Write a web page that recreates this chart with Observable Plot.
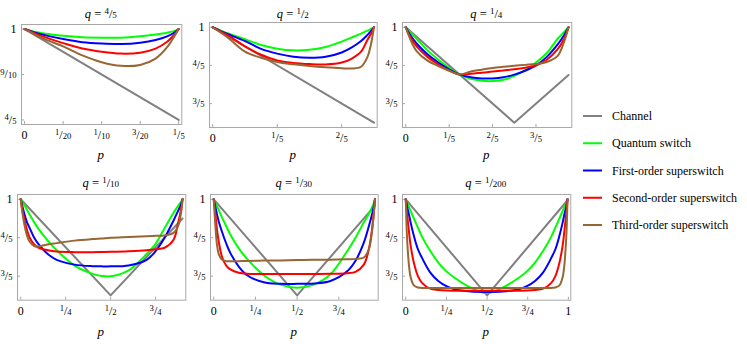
<!DOCTYPE html>
<html>
<head>
<meta charset="utf-8">
<script src="https://cdn.jsdelivr.net/npm/d3@7"></script>
<script src="https://cdn.jsdelivr.net/npm/@observablehq/plot@0.6"></script>
<style>
  body { margin: 0; background: #fff; }
  #root { position: relative; width: 747px; height: 344px; overflow: hidden; font-family: "Liberation Serif", "Times New Roman", "DejaVu Serif", serif; }
  .panel { position: absolute; }
  #overlay { position: absolute; left: 0; top: 0; pointer-events: none; }
  svg text { font-family: "Liberation Serif", "Times New Roman", "DejaVu Serif", serif !important; }
</style>
</head>
<body>
<div id="root"></div>
<script>
// ---------- data ----------
const seriesNames = ["Channel", "Quantum switch", "First-order superswitch", "Second-order superswitch", "Third-order superswitch"];
const seriesColors = ["#808080", "#00ff00", "#0000ff", "#ff0000", "#996633"];

const qNumerators = ["4", "1", "1", "1", "1", "1"];
const qDenominators = ["5", "2", "4", "10", "30", "200"];

// q = 4/5
const p1 = [0, 0.01, 0.02, 0.03, 0.05, 0.075, 0.1, 0.125, 0.15, 0.17, 0.185, 0.195, 0.2];
const switch1 = [1, 0.995, 0.992, 0.989, 0.985, 0.982, 0.981, 0.981, 0.984, 0.988, 0.992, 0.996, 1];
const first1 = [1, 0.994, 0.989, 0.985, 0.978, 0.971, 0.968, 0.967, 0.970, 0.976, 0.984, 0.993, 1];
const second1 = [1, 0.993, 0.986, 0.980, 0.969, 0.957, 0.950, 0.946, 0.948, 0.957, 0.972, 0.989, 1];
const third1 = [1, 0.991, 0.982, 0.975, 0.962, 0.942, 0.927, 0.919, 0.921, 0.935, 0.960, 0.986, 1];
const chanP1 = [0, 0.2];
const chanV1 = [1, 0.8];
const xTicks1 = [0, 0.05, 0.1, 0.15, 0.2];
const xLabels1 = ["0", "1/20", "1/10", "3/20", "1/5"];
const yTicks1 = [0.8, 0.9, 1];
const yLabels1 = ["4/5", "9/10", "1"];

// q = 1/2
const p2 = [0, 0.025, 0.05, 0.1, 0.15, 0.2, 0.25, 0.3, 0.35, 0.4, 0.43, 0.46, 0.48, 0.49, 0.5];
const switch2 = [1, 0.982, 0.966, 0.937, 0.907, 0.888, 0.879, 0.882, 0.897, 0.925, 0.946, 0.967, 0.982, 0.991, 1];
const first2 = [1, 0.980, 0.962, 0.928, 0.887, 0.862, 0.846, 0.840, 0.845, 0.868, 0.893, 0.928, 0.960, 0.978, 1];
const second2 = [1, 0.977, 0.955, 0.900, 0.856, 0.826, 0.813, 0.807, 0.805, 0.815, 0.835, 0.872, 0.935, 0.963, 1];
const third2 = [1, 0.972, 0.942, 0.872, 0.840, 0.818, 0.806, 0.797, 0.790, 0.785, 0.784, 0.793, 0.845, 0.905, 1];
const chanP2 = [0, 0.5];
const chanV2 = [1, 0.5];
const xTicks2 = [0, 0.2, 0.4];
const xLabels2 = ["0", "1/5", "2/5"];
const yTicks2 = [0.6, 0.8, 1];
const yLabels2 = ["3/5", "4/5", "1"];

// q = 1/4
const p3 = [0, 0.02, 0.05, 0.1, 0.15, 0.2, 0.246, 0.3, 0.35, 0.4, 0.45, 0.5, 0.55, 0.6, 0.65, 0.7, 0.73, 0.75];
const switch3 = [1, 0.975, 0.94, 0.879, 0.83, 0.787, 0.753, 0.73, 0.72, 0.718, 0.725, 0.745, 0.775, 0.815, 0.865, 0.94, 0.975, 1];
const first3 = [1, 0.96, 0.915, 0.858, 0.815, 0.78, 0.753, 0.738, 0.732, 0.732, 0.738, 0.752, 0.772, 0.8, 0.845, 0.91, 0.96, 1];
const second3 = [1, 0.95, 0.9, 0.845, 0.805, 0.774, 0.753, 0.756, 0.762, 0.768, 0.774, 0.78, 0.788, 0.8, 0.83, 0.885, 0.94, 1];
const third3 = [1, 0.94, 0.875, 0.825, 0.797, 0.772, 0.753, 0.768, 0.778, 0.787, 0.793, 0.798, 0.803, 0.808, 0.818, 0.85, 0.925, 1];
const chanP3 = [0, 0.5, 0.75];
const chanV3 = [1, 0.5, 0.75];
const xTicks3 = [0, 0.2, 0.4, 0.6];
const xLabels3 = ["0", "1/5", "2/5", "3/5"];
const yTicks3 = [0.6, 0.8, 1];
const yLabels3 = ["3/5", "4/5", "1"];

// q = 1/10
const p4 = [0, 0.01, 0.02, 0.035, 0.05, 0.075, 0.1, 0.15, 0.2, 0.3, 0.4, 0.45, 0.5, 0.6, 0.7, 0.75, 0.8, 0.85, 0.875, 0.89, 0.9];
const switch4 = [1, 0.985, 0.97, 0.945, 0.92, 0.88, 0.845, 0.785, 0.735, 0.655, 0.612, 0.601, 0.599, 0.63, 0.715, 0.768, 0.85, 0.93, 0.965, 0.985, 1];
const first4 = [1, 0.96, 0.925, 0.88, 0.85, 0.8, 0.765, 0.715, 0.685, 0.66, 0.652, 0.651, 0.651, 0.656, 0.685, 0.73, 0.8, 0.89, 0.94, 0.97, 1];
const second4 = [1, 0.94, 0.895, 0.84, 0.8, 0.765, 0.748, 0.735, 0.728, 0.725, 0.725, 0.726, 0.727, 0.73, 0.735, 0.74, 0.748, 0.79, 0.875, 0.94, 1];
const third4 = [1, 0.925, 0.87, 0.81, 0.78, 0.757, 0.755, 0.765, 0.772, 0.785, 0.793, 0.796, 0.8, 0.804, 0.808, 0.81, 0.812, 0.825, 0.86, 0.92, 1];
const chanP4 = [0, 0.5, 0.9];
const chanV4 = [1, 0.5, 0.9];
const xTicks4 = [0, 0.25, 0.5, 0.75];
const xLabels4 = ["0", "1/4", "1/2", "3/4"];
const yTicks4 = [0.6, 0.8, 1];
const yLabels4 = ["3/5", "4/5", "1"];

// q = 1/30
const p5 = [0, 0.005, 0.01, 0.02, 0.03, 0.05, 0.075, 0.1, 0.15, 0.2, 0.3, 0.4, 0.5, 0.6, 0.7, 0.8, 0.85, 0.9, 0.93, 0.95, 0.96, 0.9667];
const switch5 = [1, 0.99, 0.98, 0.962, 0.945, 0.905, 0.86, 0.815, 0.745, 0.69, 0.605, 0.556, 0.54, 0.556, 0.61, 0.73, 0.8, 0.88, 0.925, 0.96, 0.98, 1];
const first5 = [1, 0.98, 0.96, 0.92, 0.885, 0.83, 0.77, 0.72, 0.65, 0.605, 0.568, 0.56, 0.56, 0.562, 0.575, 0.625, 0.68, 0.775, 0.86, 0.925, 0.965, 1];
const second5 = [1, 0.96, 0.92, 0.84, 0.78, 0.7, 0.655, 0.635, 0.618, 0.613, 0.611, 0.611, 0.611, 0.611, 0.612, 0.615, 0.622, 0.66, 0.74, 0.85, 0.93, 1];
const third5 = [1, 0.93, 0.86, 0.76, 0.715, 0.685, 0.678, 0.677, 0.678, 0.679, 0.681, 0.682, 0.684, 0.685, 0.686, 0.688, 0.69, 0.697, 0.74, 0.84, 0.93, 1];
const chanP5 = [0, 0.5, 0.9667];
const chanV5 = [1, 0.5, 0.9667];
const xTicks5 = [0, 0.25, 0.5, 0.75];
const xLabels5 = ["0", "1/4", "1/2", "3/4"];
const yTicks5 = [0.6, 0.8, 1];
const yLabels5 = ["3/5", "4/5", "1"];

// q = 1/200
const p6 = [0, 0.0025, 0.005, 0.01, 0.02, 0.03, 0.05, 0.075, 0.1, 0.15, 0.2, 0.25, 0.3, 0.4, 0.4975, 0.595, 0.695, 0.745, 0.795, 0.845, 0.895, 0.92, 0.945, 0.965, 0.975, 0.985, 0.99, 0.9925, 0.995];
const switch6 = [1, 0.995, 0.99, 0.98, 0.96, 0.94, 0.9, 0.853, 0.806, 0.732, 0.671, 0.625, 0.592, 0.54, 0.512, 0.54, 0.592, 0.625, 0.671, 0.732, 0.806, 0.853, 0.9, 0.94, 0.96, 0.98, 0.99, 0.995, 1];
const first6 = [1, 0.99, 0.98, 0.955, 0.92, 0.88, 0.81, 0.74, 0.695, 0.62, 0.575, 0.548, 0.532, 0.52, 0.518, 0.52, 0.532, 0.548, 0.575, 0.62, 0.695, 0.74, 0.81, 0.88, 0.92, 0.955, 0.98, 0.99, 1];
const second6 = [1, 0.975, 0.95, 0.91, 0.83, 0.76, 0.67, 0.6, 0.565, 0.535, 0.528, 0.525, 0.524, 0.524, 0.524, 0.524, 0.524, 0.525, 0.528, 0.535, 0.565, 0.6, 0.67, 0.76, 0.83, 0.91, 0.95, 0.975, 1];
const third6 = [1, 0.93, 0.86, 0.77, 0.655, 0.595, 0.552, 0.541, 0.539, 0.538, 0.538, 0.538, 0.538, 0.538, 0.538, 0.538, 0.538, 0.538, 0.538, 0.538, 0.539, 0.541, 0.552, 0.595, 0.655, 0.77, 0.86, 0.93, 1];
const chanP6 = [0, 0.5, 0.995];
const chanV6 = [1, 0.5, 0.995];
const xTicks6 = [0, 0.25, 0.5, 0.75, 1];
const xLabels6 = ["0", "1/4", "1/2", "3/4", "1"];
const yTicks6 = [0.6, 0.8, 1];
const yLabels6 = ["3/5", "4/5", "1"];

// ---------- assembly ----------
const panels = [
  {p: p1, curves: [switch1, first1, second1, third1], chP: chanP1, chV: chanV1, xT: xTicks1, xL: xLabels1, yT: yTicks1, yL: yLabels1},
  {p: p2, curves: [switch2, first2, second2, third2], chP: chanP2, chV: chanV2, xT: xTicks2, xL: xLabels2, yT: yTicks2, yL: yLabels2},
  {p: p3, curves: [switch3, first3, second3, third3], chP: chanP3, chV: chanV3, xT: xTicks3, xL: xLabels3, yT: yTicks3, yL: yLabels3},
  {p: p4, curves: [switch4, first4, second4, third4], chP: chanP4, chV: chanV4, xT: xTicks4, xL: xLabels4, yT: yTicks4, yL: yLabels4},
  {p: p5, curves: [switch5, first5, second5, third5], chP: chanP5, chV: chanV5, xT: xTicks5, xL: xLabels5, yT: yTicks5, yL: yLabels5},
  {p: p6, curves: [switch6, first6, second6, third6], chP: chanP6, chV: chanV6, xT: xTicks6, xL: xLabels6, yT: yTicks6, yL: yLabels6}
];

// layout: frame boxes (page pixels)
const frames = [
  {l: 20.7, r: 181, t: 24, b: 124},
  {l: 209, r: 376.7, t: 21.7, b: 126.7},
  {l: 401.7, r: 571, t: 21.7, b: 126.7},
  {l: 16.7, r: 185, t: 194.3, b: 300},
  {l: 210, r: 377.7, t: 194.3, b: 300},
  {l: 401.7, r: 570, t: 194.3, b: 300}
];
const frameColor = "#a8a8a8";
const fontFamily = '"Liberation Serif", "Times New Roman", "DejaVu Serif", serif';
const root = document.getElementById("root");

function fracify(sel, size) {
  sel.each(function () {
    const m = /^(\d+)\/(\d+)$/.exec(this.textContent);
    if (!m) return;
    const t = d3.select(this);
    t.text(null);
    t.append("tspan").attr("font-size", size * 0.72).attr("dy", -size * 0.3).text(m[1]);
    t.append("tspan").attr("dy", size * 0.3).text("/");
    t.append("tspan").attr("font-size", size * 0.72).text(m[2]);
  });
}

panels.forEach((P, i) => {
  const f = frames[i];
  const ML = 24, MR = 6, MT = 6, MB = 24;
  const W = f.r - f.l + ML + MR, H = f.b - f.t + MT + MB;
  const xmax = P.p[P.p.length - 1];
  const allV = P.chV.concat(...P.curves);
  const ymin = d3.min(allV), ymax = d3.max(allV), yr = ymax - ymin;
  const rows = [];
  P.curves.forEach((vals, k) => vals.forEach((v, j) => rows.push({p: P.p[j], v, s: seriesNames[k + 1]})));
  const chRows = P.chP.map((p, j) => ({p, v: P.chV[j]}));
  const chart = Plot.plot({
    width: W, height: H,
    marginLeft: ML, marginRight: MR, marginTop: MT, marginBottom: MB,
    style: {fontFamily, fontSize: "12px", color: "black", background: "transparent", overflow: "visible"},
    x: {domain: [-0.02 * xmax, 1.02 * xmax]},
    y: {domain: [ymin - 0.05 * yr, ymax + 0.05 * yr]},
    color: {domain: seriesNames, range: seriesColors},
    marks: [
      Plot.frame({stroke: frameColor}),
      Plot.axisX(P.xT, {tickSize: -3, tickPadding: 9, stroke: frameColor, fill: "black", tickFormat: d => P.xL[P.xT.indexOf(d)], label: null}),
      Plot.axisY(P.yT, {tickSize: -3, tickPadding: 8, stroke: frameColor, fill: "black", tickFormat: d => P.yL[P.yT.indexOf(d)], label: null}),
      Plot.line(chRows, {x: "p", y: "v", stroke: seriesColors[0], strokeWidth: 2}),
      Plot.line(rows, {x: "p", y: "v", z: "s", stroke: "s", strokeWidth: 2, curve: "catmull-rom"})
    ]
  });
  fracify(d3.select(chart).selectAll('g[aria-label="x-axis tick label"] text, g[aria-label="y-axis tick label"] text'), 12);
  const div = document.createElement("div");
  div.className = "panel";
  div.style.left = (f.l - ML) + "px";
  div.style.top = (f.t - MT) + "px";
  div.style.width = W + "px";
  div.style.height = H + "px";
  div.appendChild(chart);
  root.appendChild(div);
});

// overlay: titles, axis labels, legend
const ov = d3.select(root).append("svg").attr("id", "overlay")
  .attr("width", 747).attr("height", 344)
  .style("font-family", fontFamily);

frames.forEach((f, i) => {
  const cx = (f.l + f.r) / 2;
  const row = i < 3 ? 0 : 1;
  const t = ov.append("text").attr("x", cx).attr("y", row === 0 ? 17.5 : 187)
    .attr("text-anchor", "middle").attr("font-size", 12.5).attr("fill", "black");
  t.append("tspan").attr("font-style", "italic").text("q");
  t.append("tspan").text(" = ");
  t.append("tspan").attr("font-size", 9).attr("dy", -3.8).text(qNumerators[i]);
  t.append("tspan").attr("dy", 3.8).text("/");
  t.append("tspan").attr("font-size", 9).text(qDenominators[i]);
  ov.append("text").attr("x", cx).attr("y", row === 0 ? 159 : 336)
    .attr("text-anchor", "middle").attr("font-size", 13).attr("font-style", "italic").attr("fill", "black").text("p");
});

const legendX = 583, legendY = 116, legendStep = 27.25;
seriesNames.forEach((name, k) => {
  const y = legendY + k * legendStep;
  ov.append("line").attr("x1", legendX).attr("x2", legendX + 19).attr("y1", y).attr("y2", y)
    .attr("stroke", seriesColors[k]).attr("stroke-width", 2);
  ov.append("text").attr("x", legendX + 29).attr("y", y + 4).attr("font-size", 12).attr("fill", "black").text(name);
});
</script>
</body>
</html>
